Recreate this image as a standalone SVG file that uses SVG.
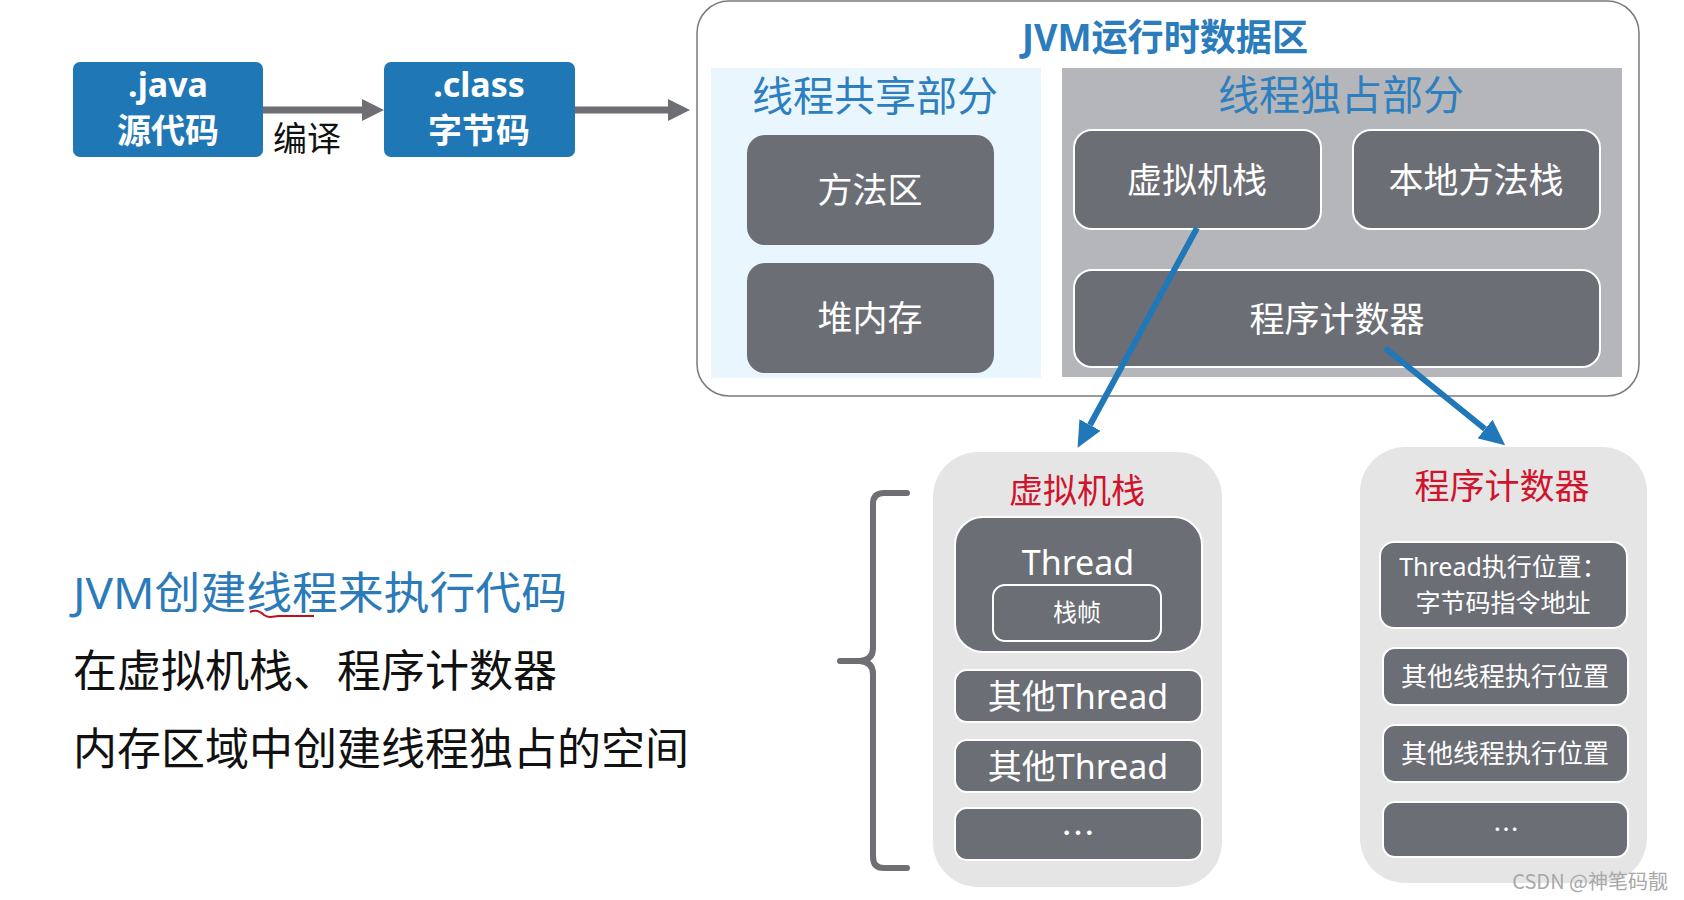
<svg xmlns="http://www.w3.org/2000/svg" width="1684" height="900" viewBox="0 0 1684 900">
<style>
  text { font-family: "Noto Sans", "Noto Sans CJK SC", sans-serif; }
  .cjk { font-family: "Noto Sans CJK SC", "Noto Sans", sans-serif; }
  .blue { fill: #1f77b5; }
  .dark { fill: #6c6e75; }
  .darkw { fill: #6c6e75; stroke: #ffffff; stroke-width: 2; }
  .wt { fill: #ffffff; text-anchor: middle; }
  .wtb { fill: #ffffff; text-anchor: middle; font-weight: bold; font-size: 34px; }
  .red { fill: #d0142c; text-anchor: middle; }
  .sec { fill: #2d7fbf; text-anchor: middle; font-size: 41px; }
  .holder { fill: #e5e5e6; }
  .garrow { stroke: #6e6f74; stroke-width: 7; fill: none; }
  .barrow { stroke: #2078b8; stroke-width: 6; fill: none; }
</style>
<defs>
  <marker id="gh" markerUnits="userSpaceOnUse" viewBox="0 0 22 22" refX="0" refY="11" markerWidth="22" markerHeight="22" orient="auto">
    <path d="M0,0 L22,11 L0,22 Z" fill="#6e6f74"/>
  </marker>
  <marker id="bh" markerUnits="userSpaceOnUse" viewBox="0 0 26 24" refX="0" refY="12" markerWidth="26" markerHeight="24" orient="auto">
    <path d="M0,0 L26,12 L0,24 Z" fill="#2078b8"/>
  </marker>
</defs>

<rect width="1684" height="900" fill="#ffffff"/>

<!-- compile flow -->
<g id="java-node">
  <rect x="73" y="62" width="190" height="95" rx="7" class="blue"/>
  <text x="168" y="97" class="wtb">.java</text>
  <text x="168" y="143" class="wtb cjk" font-size="35">源代码</text>
</g>
<g id="class-node">
  <rect x="384" y="62" width="191" height="95" rx="7" class="blue"/>
  <text x="479" y="97" class="wtb">.class</text>
  <text x="479" y="143" class="wtb cjk" font-size="35">字节码</text>
</g>
<g id="compile-label">
  <text x="307" y="151" font-size="34" fill="#111" text-anchor="middle" class="cjk">编译</text>
</g>

<!-- runtime data area -->
<g id="jvm-runtime-area">
  <rect x="697" y="1" width="942" height="395" rx="32" fill="#ffffff" stroke="#7a7a7a" stroke-width="1.5"/>
  <text x="1165" y="51" font-size="37" font-weight="bold" fill="#2a7cbc" text-anchor="middle" textLength="286" lengthAdjust="spacingAndGlyphs">JVM运行时数据区</text>
</g>
<g id="shared-section">
  <rect x="711" y="68" width="330" height="310" fill="#eaf6fd"/>
  <text x="875" y="111" class="sec cjk">线程共享部分</text>
</g>
<g id="method-area">
  <rect x="747" y="135" width="247" height="110" rx="18" class="dark"/>
  <text x="870" y="203" font-size="35" class="wt cjk">方法区</text>
</g>
<g id="heap">
  <rect x="747" y="263" width="247" height="110" rx="18" class="dark"/>
  <text x="870" y="331" font-size="35" class="wt cjk">堆内存</text>
</g>
<g id="exclusive-section">
  <rect x="1062" y="68" width="560" height="309" fill="#b5b6b9"/>
  <text x="1341" y="110" class="sec cjk">线程独占部分</text>
</g>
<g id="vm-stack">
  <rect x="1074" y="130" width="247" height="99" rx="18" class="darkw"/>
  <text x="1197" y="193" font-size="35" class="wt cjk">虚拟机栈</text>
</g>
<g id="native-stack">
  <rect x="1353" y="130" width="247" height="99" rx="18" class="darkw"/>
  <text x="1476" y="193" font-size="35" class="wt cjk">本地方法栈</text>
</g>
<g id="pc-register">
  <rect x="1074" y="270" width="526" height="97" rx="18" class="darkw"/>
  <text x="1337" y="332" font-size="35" class="wt cjk">程序计数器</text>
</g>

<!-- VM stack detail -->
<g id="vm-stack-detail">
  <rect x="933" y="452" width="289" height="435" rx="45" class="holder"/>
  <text x="1077" y="503" font-size="34" class="red cjk">虚拟机栈</text>
  <rect x="955" y="517" width="247" height="135" rx="28" class="darkw"/>
  <text x="1078" y="575" font-size="34" class="wt">Thread</text>
  <rect x="993" y="585" width="168" height="56" rx="12" class="darkw"/>
  <text x="1077" y="621" font-size="24" class="wt cjk">栈帧</text>
  <rect x="955" y="670" width="247" height="52" rx="12" class="darkw"/>
  <text x="1078" y="709" font-size="34" class="wt">其他Thread</text>
  <rect x="955" y="740" width="247" height="52" rx="12" class="darkw"/>
  <text x="1078" y="779" font-size="34" class="wt">其他Thread</text>
  <rect x="955" y="808" width="247" height="52" rx="12" class="darkw"/>
  <text x="1078" y="846" font-size="34" class="wt cjk">…</text>
</g>

<!-- PC register detail -->
<g id="pc-detail">
  <rect x="1360" y="447" width="287" height="436" rx="45" class="holder"/>
  <text x="1502" y="499" font-size="35" class="red cjk">程序计数器</text>
  <rect x="1380" y="542" width="247" height="86" rx="14" class="darkw"/>
  <text x="1503" y="576" font-size="25" class="wt">Thread执行位置：</text>
  <text x="1503" y="612" font-size="25" class="wt cjk">字节码指令地址</text>
  <rect x="1383" y="648" width="245" height="57" rx="12" class="darkw"/>
  <text x="1505" y="686" font-size="26" class="wt cjk">其他线程执行位置</text>
  <rect x="1383" y="725" width="245" height="57" rx="12" class="darkw"/>
  <text x="1505" y="763" font-size="26" class="wt cjk">其他线程执行位置</text>
  <rect x="1383" y="802" width="245" height="55" rx="12" class="darkw"/>
  <text x="1506" y="839" font-size="26" class="wt cjk">…</text>
</g>

<!-- brace -->
<g id="brace">
  <path d="M907,493 H884 Q873,493 873,504 V648 Q873,660 860,661 H840 M860,661 Q873,662 873,674 V857 Q873,868 884,868 H907" fill="none" stroke="#6e6f74" stroke-width="6" stroke-linecap="round" stroke-linejoin="round"/>
</g>

<!-- left text -->
<g id="notes">
  <text x="73" y="609" font-size="44" fill="#2b7bba" textLength="494" lengthAdjust="spacingAndGlyphs">JVM创建线程来执行代码</text>
  <path d="M250,612 C256,609 260,611 264,615 C268,618 272,617 278,616 L314,616" fill="none" stroke="#c0101e" stroke-width="2"/>
  <text x="73" y="687" font-size="44" fill="#111111">在虚拟机栈、程序计数器</text>
  <text x="73" y="765" font-size="44" fill="#111111">内存区域中创建线程独占的空间</text>
</g>

<!-- connectors -->
<g id="connectors">
  <line x1="263" y1="110" x2="362" y2="110" class="garrow" marker-end="url(#gh)"/>
  <line x1="575" y1="110" x2="668" y2="110" class="garrow" marker-end="url(#gh)"/>
  <line x1="1197" y1="228" x2="1090" y2="425" class="barrow" marker-end="url(#bh)"/>
  <line x1="1385" y1="348" x2="1485" y2="429" class="barrow" marker-end="url(#bh)"/>
</g>

<text x="1668" y="889" font-size="20" fill="#a8a8a8" text-anchor="end" class="cjk">CSDN @神笔码靓</text>
</svg>
